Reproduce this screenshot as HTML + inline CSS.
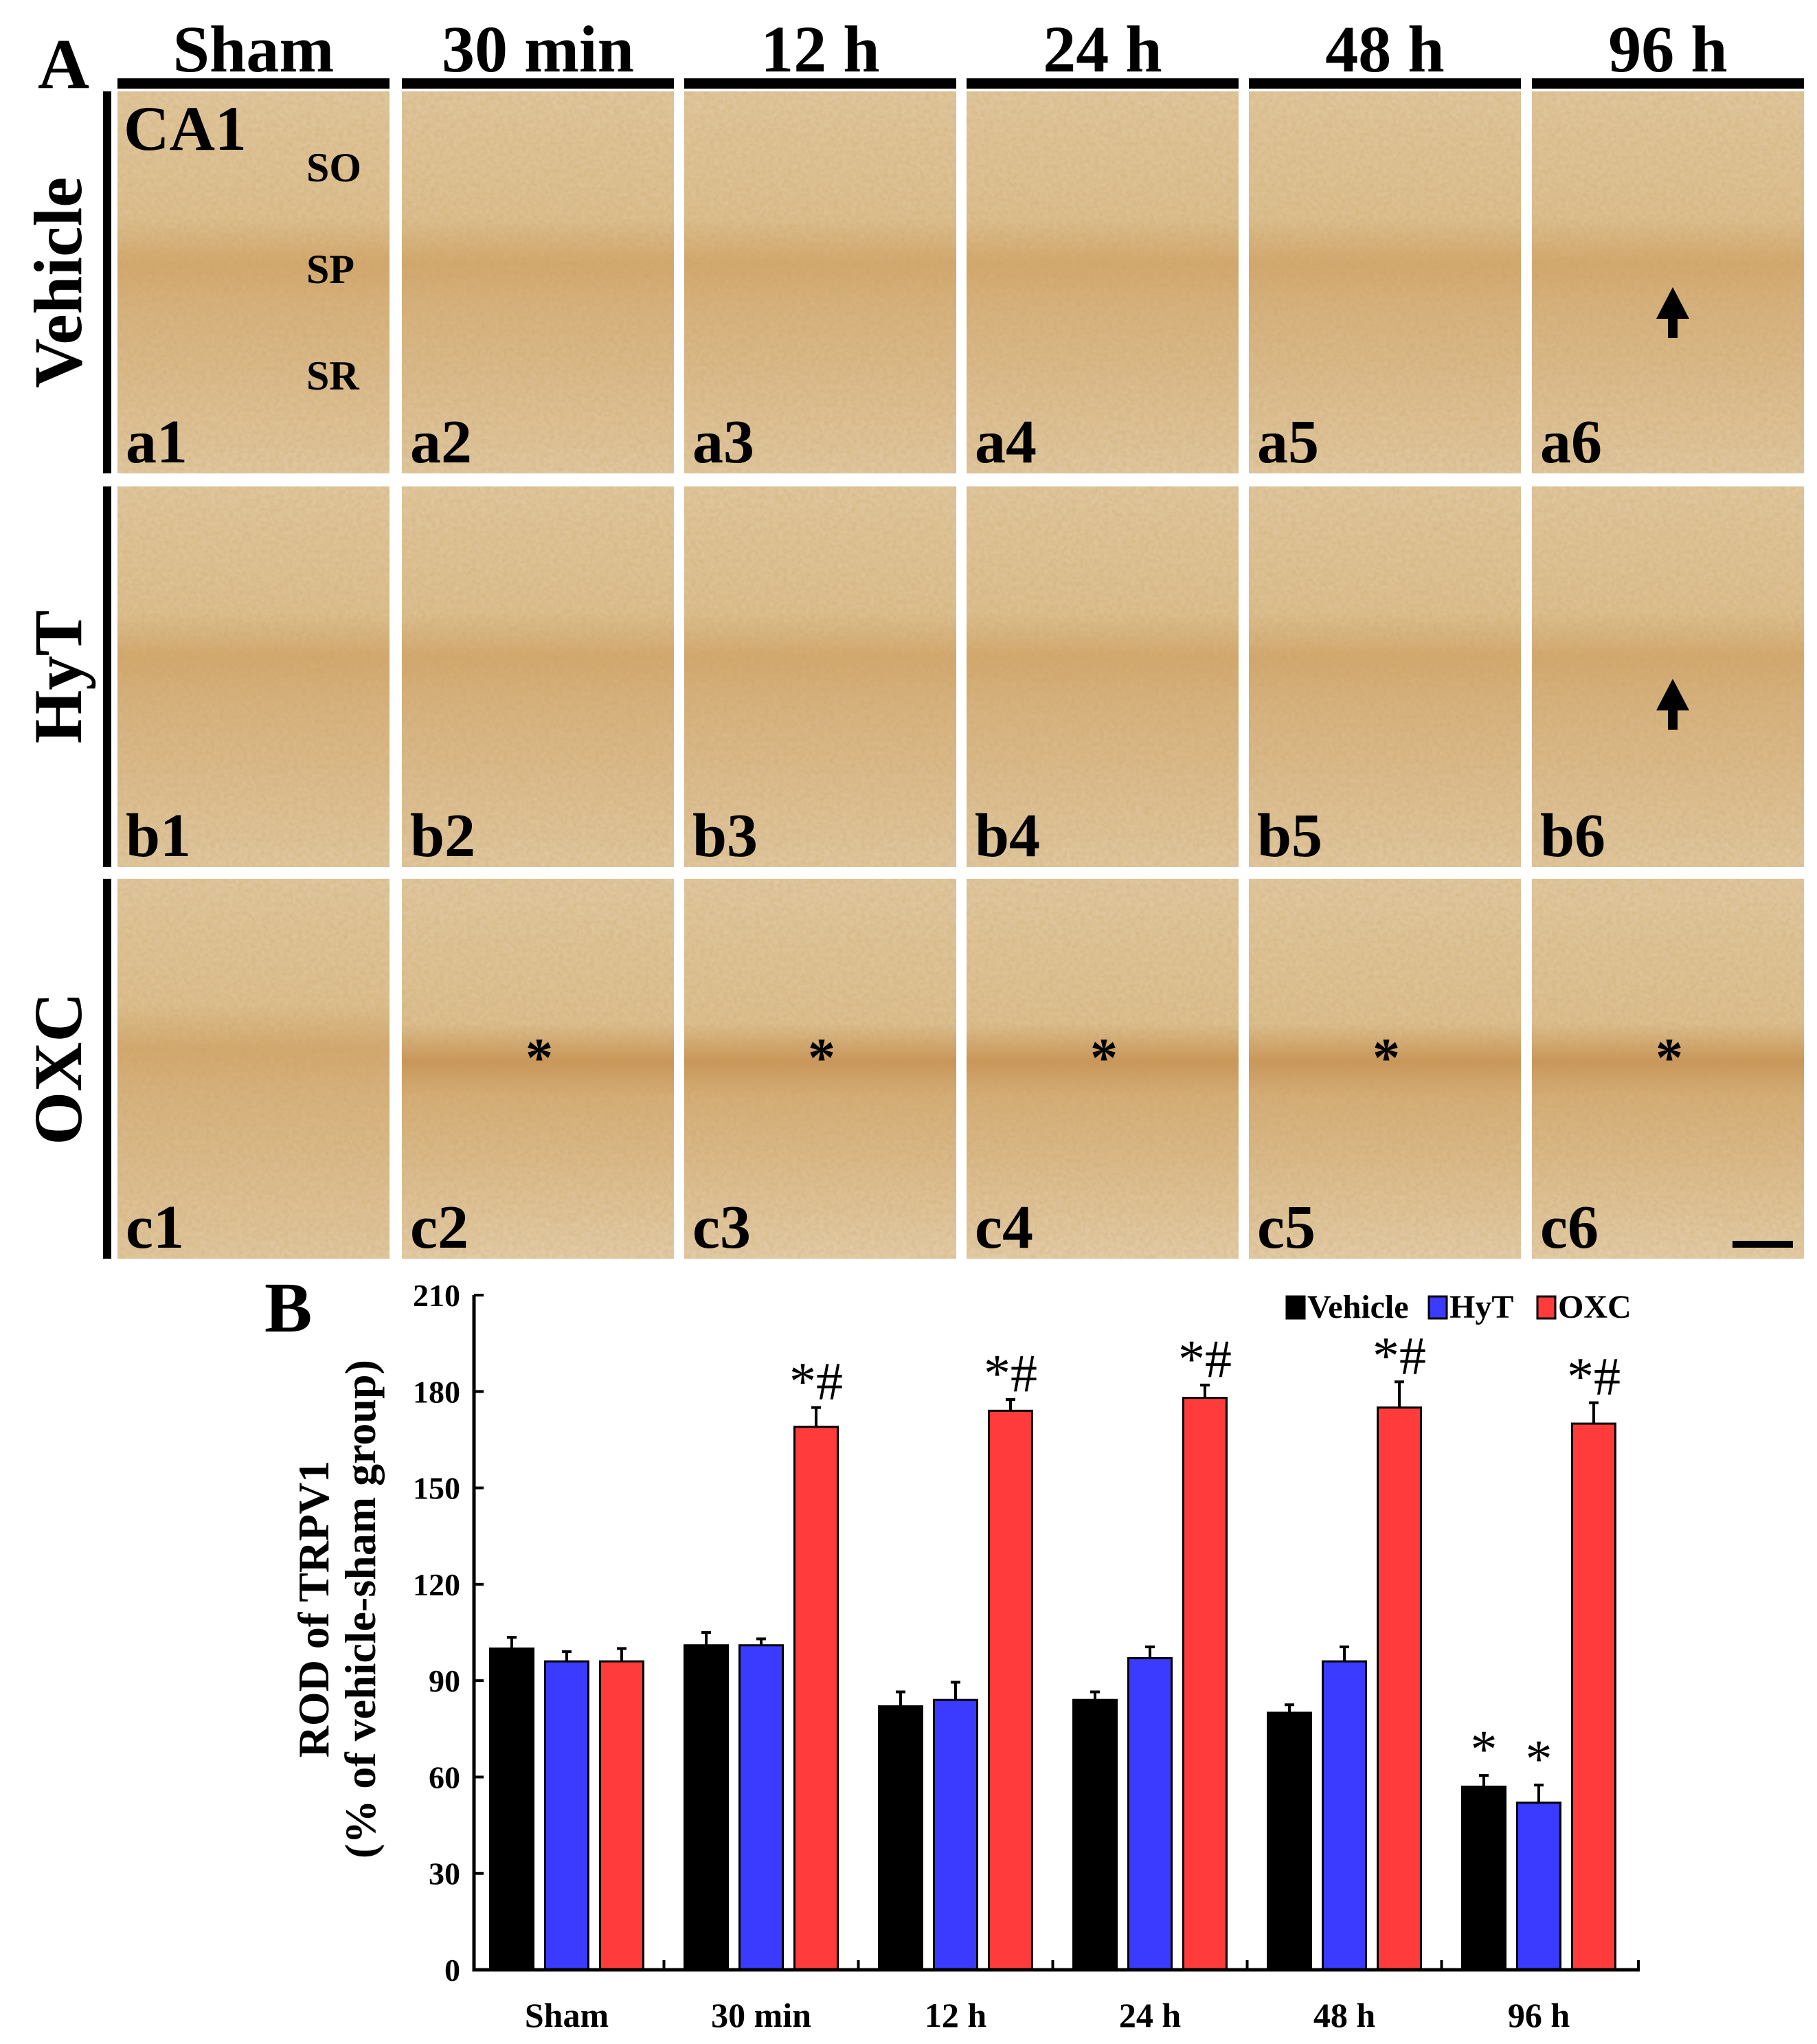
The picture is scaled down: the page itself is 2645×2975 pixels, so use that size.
<!DOCTYPE html>
<html><head><meta charset="utf-8"><style>
html,body{margin:0;padding:0;background:#fff}
svg{display:block;font-family:"Liberation Serif",serif;font-weight:bold}
</style></head><body>
<svg id="fig" width="2645" height="2975" viewBox="0 0 2645 2975">
<defs>
<linearGradient id="gA" x1="0" y1="0" x2="0" y2="1">
<stop offset="0" stop-color="#e0c69e"/><stop offset="0.33" stop-color="#dcbf90"/><stop offset="0.45" stop-color="#d2a86f"/><stop offset="0.56" stop-color="#d6b17e"/><stop offset="1" stop-color="#e0c7a0"/></linearGradient>
<linearGradient id="gC" x1="0" y1="0" x2="0" y2="1">
<stop offset="0" stop-color="#e0c7a0"/><stop offset="0.38" stop-color="#dcbf90"/><stop offset="0.48" stop-color="#c9965a"/><stop offset="0.57" stop-color="#d4ad77"/><stop offset="1" stop-color="#e3cca8"/></linearGradient>
<filter id="noise" x="0" y="0" width="100%" height="100%">
<feTurbulence type="fractalNoise" baseFrequency="0.15" numOctaves="2" seed="3"/>
<feColorMatrix values="0 0 0 0 0.55  0 0 0 0 0.35  0 0 0 0 0.1  0 0 0 0.9 -0.25"/>
</filter>
</defs>
<g id="panelA"></g>
<g id="chart"></g>
</svg>
<script>
const NS="http://www.w3.org/2000/svg";
function mk(parent,tag,attrs,text){const e=document.createElementNS(NS,tag);for(const k in attrs)e.setAttribute(k,attrs[k]);if(text!==undefined)e.textContent=text;parent.appendChild(e);return e;}

// ---------- Panel A ----------
const colLabels=["Sham","30 min","12 h","24 h","48 h","96 h"];
const rowLabels=["Vehicle","HyT","OXC"];
const rowPrefix=["a","b","c"];
const A=document.getElementById("panelA");
const colX=[171,585,996,1407,1818,2230], colW=396;
const rowY=[133,708,1279], rowH=[556,554,553];
let t=mk(A,"text",{x:55,y:128,"font-size":104},"A");


colLabels.forEach((c,i)=>{
  let h=mk(A,"text",{x:colX[i]+colW/2,y:104,"font-size":96,"text-anchor":"middle"},c);
  
  
  let b=mk(A,"rect",{x:colX[i],y:114,width:colW,height:15,fill:"#000"});
  
  
});
rowLabels.forEach((r,ri)=>{
  let bar=mk(A,"rect",{x:150,y:rowY[ri],width:12,height:rowH[ri],fill:"#000"});
  
  
  const cy=rowY[ri]+rowH[ri]/2;
  let l=mk(A,"text",{x:0,y:0,"font-size":100,"text-anchor":"middle",transform:`translate(118,${cy}) rotate(-90)`},r);
  
  
  colLabels.forEach((c,ci)=>{
    let p=mk(A,"rect",{x:colX[ci],y:rowY[ri],width:colW,height:rowH[ri],fill:(ri==2&&ci>0)?"url(#gC)":"url(#gA)"});
    
    
    let n=mk(A,"rect",{x:colX[ci],y:rowY[ri],width:colW,height:rowH[ri],filter:"url(#noise)",opacity:0.5});
    
    
    let pl=mk(A,"text",{x:colX[ci]+12,y:rowY[ri]+rowH[ri]-16,"font-size":90},rowPrefix[ri]+(ci+1));
    
    
    if(ri==2&&ci>0){
      let s=mk(A,"text",{x:colX[ci]+200,y:rowY[ri]+rowH[ri]*0.52,"font-size":80,"text-anchor":"middle"},"*");
      
      
    }
  });
});
[["CA1",180,218,92],["SO",446,264,60],["SP",446,412,60],["SR",446,567,60]].forEach(a=>{
  let e=mk(A,"text",{x:a[1],y:a[2],"font-size":a[3]},a[0]);
  
  
});
[[2435,418],[2435,988]].forEach(p=>{
  let g=mk(A,"path",{d:`M${p[0]-24},${p[1]+46} L${p[0]},${p[1]} L${p[0]+24},${p[1]+46} L${p[0]+7},${p[1]+46} L${p[0]+7},${p[1]+74} L${p[0]-7},${p[1]+74} L${p[0]-7},${p[1]+46} Z`,fill:"#000"});
  
  
});
let sb=mk(A,"rect",{x:2522,y:1806,width:88,height:10,fill:"#000"});



// ---------- Panel B chart ----------
const categories=["Sham","30 min","12 h","24 h","48 h","96 h"];
const seriesNames=["Vehicle","HyT","OXC"];
const seriesColors=["#000000","#3b3bff","#ff3b3b"];
const vehicleVals=[100,101,82,84,80,57];
const hytVals=[96,101,84,97,96,52];
const oxcVals=[96,169,174,178,175,170];
const vehicleErr=[3.5,4,4.5,2.5,2.5,3.5];
const hytErr=[3,2,5.5,3.5,4.5,5.5];
const oxcErr=[4,6,3.5,4,8,6.5];
const vehicleMarks=["","","","","","*"];
const hytMarks=["","","","","","*"];
const oxcMarks=["","*#","*#","*#","*#","*#"];
const yTicks=[0,30,60,90,120,150,180,210];

const C=document.getElementById("chart");
const x0=690,x1=2387,yTop=1885,yZero=2867,yMax=210;
const y=v=>yZero-(v/yMax)*(yZero-yTop);
const step=283, firstCenter=825;
const xc=i=>firstCenter+i*step;
const barW=63, off=[-80,0,80];

let bl=mk(C,"text",{x:385,y:1938,"font-size":104},"B");



const vals=[vehicleVals,hytVals,oxcVals], errs=[vehicleErr,hytErr,oxcErr], marks=[vehicleMarks,hytMarks,oxcMarks];
categories.forEach((c,i)=>{
  vals.forEach((sv,s)=>{
    const cx=xc(i)+off[s];
    let r=mk(C,"rect",{x:cx-barW/2,y:y(sv[i]),width:barW,height:yZero-y(sv[i]),fill:seriesColors[s],stroke:"#000","stroke-width":3});
    
    
    const te=y(sv[i]+errs[s][i]);
    let eb=mk(C,"path",{d:`M${cx},${y(sv[i])} V${te} M${cx-7},${te} H${cx+7}`,stroke:"#000","stroke-width":4,fill:"none"});
    
    
    if(marks[s][i]){
      let m=mk(C,"text",{x:cx,y:te-12,"font-size":78,"text-anchor":"middle","font-weight":"normal"},marks[s][i]);
      
      
    }
  });
  let cl=mk(C,"text",{x:xc(i),y:2950,"font-size":50,"text-anchor":"middle"},c);
  
  
});
let ax=mk(C,"path",{d:`M${x0},${yTop} V${yZero} H${x1}`,stroke:"#000","stroke-width":5,fill:"none"});


yTicks.forEach(v=>{
  let tk=mk(C,"path",{d:`M${x0},${y(v)} H${x0+14}`,stroke:"#000","stroke-width":4});
  
  
  let tl=mk(C,"text",{x:x0-20,y:y(v)+16,"font-size":46,"text-anchor":"end"},String(v));
  
  
});
for(let i=1;i<=categories.length;i++){
  const xx=i==categories.length?x1-2:xc(i)-step/2;
  let tk=mk(C,"path",{d:`M${xx},${yZero} V${yZero-14}`,stroke:"#000","stroke-width":4});
  
  
}
let yt=mk(C,"text",{x:0,y:0,"font-size":64,"text-anchor":"middle",transform:"translate(478,2342) rotate(-90)"},"ROD of TRPV1");


let yt2=mk(C,"text",{x:0,y:0,"font-size":64,"text-anchor":"middle",transform:"translate(546,2342) rotate(-90)"},"(% of vehicle-sham group)");


const legX=[1873,2080,2238];
seriesNames.forEach((n,s)=>{
  let sw=mk(C,"rect",{x:legX[s],y:1887,width:26,height:32,fill:seriesColors[s],stroke:"#000","stroke-width":3});
  
  
  let lt=mk(C,"text",{x:legX[s]+30,y:1918,"font-size":48},n);
  
  
});
</script>
</body></html>
